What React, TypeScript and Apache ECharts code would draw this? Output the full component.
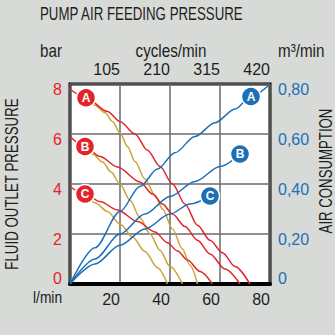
import React, { useEffect, useRef } from "react";
import * as echarts from "echarts";

// Flow (l/min) vs fluid outlet pressure (bar)
const redA = [[0, 7.8], [6.4, 7.45], [15, 6.9], [20, 6.5], [26, 6.0], [31, 5.35], [36, 4.7], [41, 4.0], [46, 3.2], [51, 2.35], [56, 1.75], [61, 1.25], [66, 0.7], [72, 0]];
const redB = [[0, 5.9], [6, 5.5], [12, 5.1], [19, 4.68], [28, 4.08], [33, 3.6], [37, 3.2], [41, 2.8], [46, 2.3], [51, 1.75], [56, 1.2], [62, 0.6], [68, 0]];
const redC = [[0, 3.9], [6, 3.6], [12, 3.3], [19, 2.96], [27, 2.5], [34, 2.08], [39, 1.65], [43, 1.32], [47, 0.96], [52, 0.5], [57, 0]];
const yelA = [[6.4, 7.45], [10, 7.15], [14, 6.85], [17, 6.5], [20, 6.05], [23, 5.5], [26, 4.9], [30, 4.2], [34, 3.55], [37, 3.0], [41, 2.2], [45, 1.4], [48, 0.75], [51, 0]];
const yelB = [[6, 5.5], [9, 5.2], [13, 4.88], [16.4, 4.48], [20, 4.0], [24, 3.35], [28, 2.65], [32, 2.0], [36, 1.35], [40, 0.7], [45, 0]];
const yelC = [[6, 3.6], [10, 3.25], [15, 2.9], [20, 2.4], [25, 1.88], [30, 1.3], [35, 0.65], [39, 0]];
// Flow (l/min) vs air consumption (m3/min)
const blueA = [[0, 0], [10, 0.145], [20, 0.29], [28, 0.39], [35, 0.46], [42, 0.525], [50, 0.59], [58, 0.645], [66, 0.7], [72.4, 0.75], [80, 0.8]];
const blueB = [[0, 0], [10, 0.1], [20, 0.2], [30, 0.28], [40, 0.35], [50, 0.41], [60, 0.47], [68, 0.52]];
const blueC = [[0, 0], [10, 0.08], [20, 0.155], [30, 0.22], [40, 0.28], [48, 0.32], [56, 0.352]];

const letters = ["A", "B", "C"];
const redMarkers = [redA[1], redB[1], redC[1]];
const blueMarkers = [blueA[9], blueB[blueB.length - 1], blueC[blueC.length - 1]];

const flowMax = 80;
const flowStep = 20;
const cyclesMax = 420;
const cyclesStep = 105;
const barMax = 8;
const barStep = 2;
const airMax = 0.8;
const airStep = 0.2;

const RED = "#e3252b";
const BLUE = "#1d70b7";
const GOLD = "#c9a53a";
const BG = "#d7dad6";
const FONT = '"Liberation Sans", Arial, sans-serif';
const INK = "#1e1e1e";

export default function App() {
  const ref = useRef<HTMLDivElement>(null);
  useEffect(() => {
    const chart = echarts.init(ref.current!, null, { renderer: "svg" });
    const lineS = (data: number[][], color: string, yIdx: number) => ({
      type: "line",
      data,
      xAxisIndex: 0,
      yAxisIndex: yIdx,
      showSymbol: false,
      smooth: 0.3,
      smoothMonotone: "x",
      lineStyle: { color, width: 1.5 },
      z: 3,
    });
    const markS = (data: number[][], color: string, yIdx: number) => ({
      type: "scatter",
      xAxisIndex: 0,
      yAxisIndex: yIdx,
      data: data.map((p, i) => ({ value: p, name: letters[i] })),
      symbolSize: 19,
      itemStyle: { color, borderColor: "#fff", borderWidth: 1.5, opacity: 1 },
      label: {
        show: true,
        position: "inside",
        formatter: (p: any) => p.name,
        color: "#fff",
        fontWeight: "bold",
        fontSize: 12,
        fontFamily: FONT,
      },
      z: 5,
    });
    const yLabelRich = {
      t: { padding: [11, 0, 0, 0], fontSize: 16, fontFamily: FONT },
      b: { padding: [0, 0, 11, 0], fontSize: 16, fontFamily: FONT },
    };
    const txt = (text: string, x: number, y: number, fontSize: number, scaleX: number, align = "left", rotation = 0) => ({
      type: "text",
      x,
      y,
      scaleX,
      rotation,
      style: { text, fontSize, fontFamily: FONT, fill: INK, align, verticalAlign: "middle" },
    });
    chart.setOption({
      animation: false,
      backgroundColor: BG,
      grid: {
        left: 70,
        top: 84,
        width: 200,
        height: 200,
        show: true,
        backgroundColor: "#fff",
        borderColor: "#000",
        borderWidth: 3,
        containLabel: false,
      },
      xAxis: [
        {
          type: "value",
          position: "bottom",
          min: 0,
          max: flowMax,
          interval: flowStep,
          axisLine: { show: true, onZero: false, lineStyle: { color: "#000", width: 4 } },
          axisTick: { show: false },
          splitLine: { show: true, lineStyle: { color: "#6a6a6a", width: 1.5 } },
          axisLabel: {
            showMinLabel: false,
            align: "right",
            margin: 7,
            color: INK,
            fontSize: 16,
            fontFamily: FONT,
          },
        },
        {
          type: "value",
          position: "top",
          min: 0,
          max: cyclesMax,
          interval: cyclesStep,
          axisLine: { show: false },
          axisTick: { show: false },
          splitLine: { show: false },
          axisLabel: {
            showMinLabel: false,
            align: "right",
            margin: 7,
            color: INK,
            fontSize: 16,
            fontFamily: FONT,
          },
        },
      ],
      yAxis: [
        {
          type: "value",
          position: "left",
          min: 0,
          max: barMax,
          interval: barStep,
          axisLine: { show: false },
          axisTick: { show: false },
          splitLine: { show: true, lineStyle: { color: "#6a6a6a", width: 1.5 } },
          axisLabel: {
            margin: 8,
            color: RED,
            fontSize: 16,
            fontFamily: FONT,
            formatter: (v: number) => (v === 0 ? "{b|0}" : "{t|" + v + "}"),
            rich: yLabelRich,
          },
        },
        {
          type: "value",
          position: "right",
          min: 0,
          max: airMax,
          interval: airStep,
          axisLine: { show: false },
          axisTick: { show: false },
          splitLine: { show: false },
          axisLabel: {
            margin: 8,
            color: BLUE,
            fontSize: 16,
            fontFamily: FONT,
            formatter: (v: number) =>
              v === 0 ? "{b|0}" : "{t|" + v.toFixed(2).replace(".", ",") + "}",
            rich: yLabelRich,
          },
        },
      ],
      series: [
        lineS(yelA, GOLD, 0),
        lineS(yelB, GOLD, 0),
        lineS(yelC, GOLD, 0),
        lineS(redA, RED, 0),
        lineS(redB, RED, 0),
        lineS(redC, RED, 0),
        lineS(blueA, BLUE, 1),
        lineS(blueB, BLUE, 1),
        lineS(blueC, BLUE, 1),
        markS(redMarkers, RED, 0),
        markS(blueMarkers, BLUE, 1),
      ],
      graphic: [
        txt("PUMP AIR FEEDING PRESSURE", 40, 13, 19, 0.7),
        txt("bar", 40, 50, 19, 0.8),
        txt("cycles/min", 171, 50, 19, 0.8, "center"),
        txt("m³/min", 278, 50, 19, 0.8),
        txt("l/min", 33, 297, 17, 0.81),
        txt("FLUID OUTLET PRESSURE", 12, 184, 18, 0.74, "center", Math.PI / 2),
        txt("AIR CONSUMPTION", 326, 171, 18, 0.735, "center", Math.PI / 2),
      ],
    });
    return () => chart.dispose();
  }, []);
  return (
    <div
      ref={ref}
      style={{ position: "fixed", left: 0, top: 0, width: 335, height: 335, background: BG }}
    />
  );
}
